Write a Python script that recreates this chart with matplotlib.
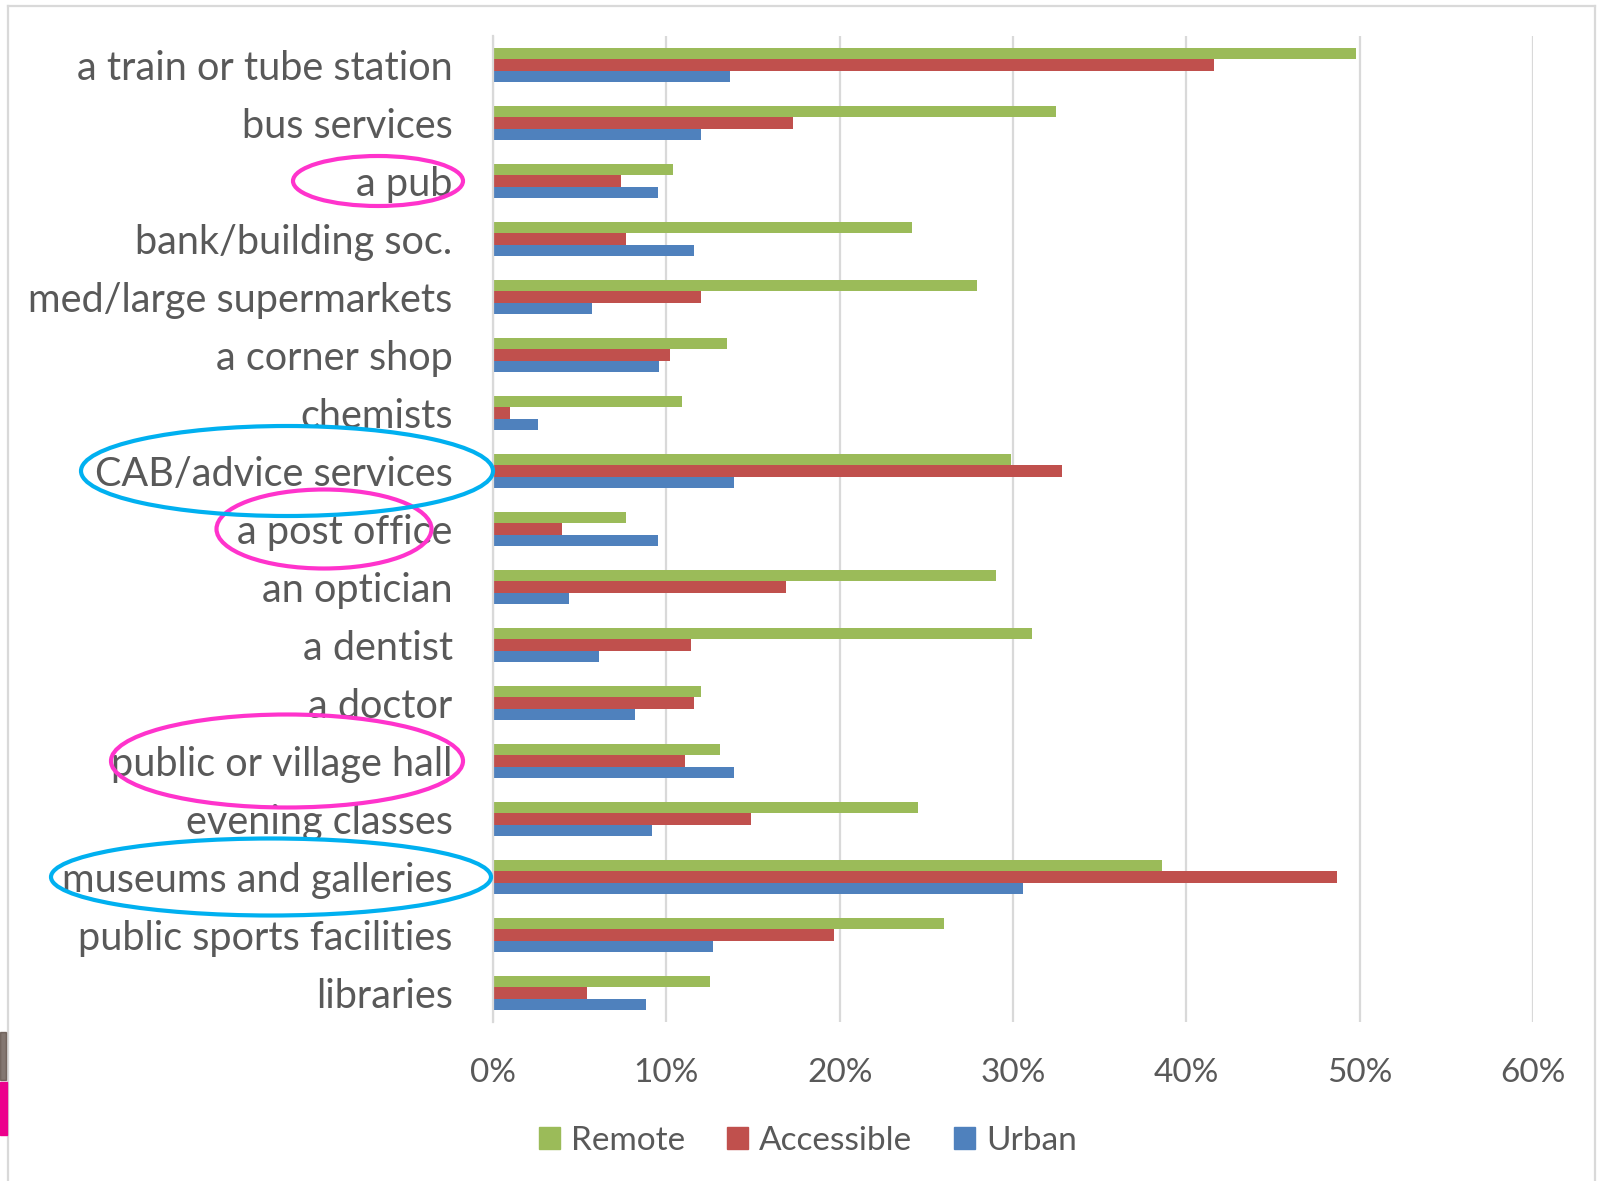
import numpy as np
import matplotlib
matplotlib.use("Agg")
import matplotlib.pyplot as plt
from matplotlib.patches import Ellipse, Rectangle
from matplotlib.lines import Line2D
from matplotlib.ticker import PercentFormatter
from matplotlib.transforms import blended_transform_factory

# data (percent of respondents), top to bottom
categories = ['a train or tube station', 'bus services', 'a pub', 'bank/building soc.',
              'med/large supermarkets', 'a corner shop', 'chemists', 'CAB/advice services',
              'a post office', 'an optician', 'a dentist', 'a doctor', 'public or village hall',
              'evening classes', 'museums and galleries', 'public sports facilities', 'libraries']
remote = [49.8, 32.5, 10.4, 24.2, 27.9, 13.5, 10.9, 29.9, 7.7, 29.0, 31.1, 12.0, 13.1, 24.5, 38.6, 26.0, 12.5]
accessible = [41.6, 17.3, 7.4, 7.7, 12.0, 10.2, 1.0, 32.8, 4.0, 16.9, 11.4, 11.6, 11.1, 14.9, 48.7, 19.7, 5.4]
urban = [13.7, 12.0, 9.5, 11.6, 5.7, 9.6, 2.6, 13.9, 9.5, 4.4, 6.1, 8.2, 13.9, 9.2, 30.6, 12.7, 8.8]
series_names = ['Remote', 'Accessible', 'Urban']
x_ticks = [0, 10, 20, 30, 40, 50, 60]

# labels that were circled by hand: (label, colour, x centre px, width px, height px)
circled = [
    ('a pub', '#ff33cc', 378, 170, 50),
    ('a post office', '#ff33cc', 324, 215, 79),
    ('public or village hall', '#ff33cc', 287, 352, 93),
    ('CAB/advice services', '#00b0f0', 287, 412, 90),
    ('museums and galleries', '#00b0f0', 271, 440, 77),
]

W, H = 1603, 1181
TXT = '#595959'
GRID = '#d9d9d9'
colors = ['#9bbb59', '#c0504d', '#4f81bd']

plt.rcParams['font.family'] = ['Lato', 'DejaVu Sans']

fig = plt.figure(figsize=(W / 100, H / 100), dpi=100)
ax_left, ax_right, ax_top, ax_bot = 493, 1533, 36, 1022
ax = fig.add_axes([ax_left / W, 1 - ax_bot / H, (ax_right - ax_left) / W, (ax_bot - ax_top) / H])

n = len(categories)
y = np.arange(n)[::-1]
bh = 0.195
for vals, off, col, name in zip([remote, accessible, urban], [bh, 0, -bh], colors, series_names):
    ax.barh(y + off, vals, height=bh, color=col, label=name, zorder=2)

ax.set_xlim(0, 60)
ax.set_ylim(-0.5, n - 0.5)
ax.set_xticks(x_ticks)
ax.xaxis.set_major_formatter(PercentFormatter(xmax=100, decimals=0))
ax.set_yticks(y)
ax.set_yticklabels(categories)
ax.tick_params(axis='y', length=0, pad=29, labelsize=28.5, labelcolor=TXT)
ax.tick_params(axis='x', length=0, pad=26, labelsize=24, labelcolor=TXT)
ax.xaxis.grid(True, color=GRID, linewidth=1.6)
ax.set_axisbelow(True)
for s in ['top', 'right', 'bottom']:
    ax.spines[s].set_visible(False)
ax.spines['left'].set_color(GRID)
ax.spines['left'].set_linewidth(1.6)

# hand-drawn ellipses around some labels
ax_w = ax_right - ax_left
px_per_row = (ax_bot - ax_top) / n
trans = blended_transform_factory(ax.transAxes, ax.transData)
for label, col, cx, ew, eh in circled:
    yy = y[categories.index(label)]
    e = Ellipse(((cx - ax_left) / ax_w, yy), ew / ax_w, eh / px_per_row,
                transform=trans, fill=False, edgecolor=col, linewidth=3.0,
                clip_on=False, zorder=5)
    ax.add_patch(e)
ax.set_ylim(-0.5, n - 0.5)

# legend
handles = [Rectangle((0, 0), 1, 1, color=c) for c in colors]
fig.legend(handles, series_names, loc='center', bbox_to_anchor=(808 / W, 1 - 1141 / H),
           ncol=3, frameon=False, fontsize=24, labelcolor=TXT,
           handlelength=0.62, handleheight=0.62, handletextpad=0.35, columnspacing=1.25)

# outer frame of the pasted chart and the bits of the neighbouring slide
fig.add_artist(Line2D([8 / W, 8 / W], [0, 1 - 6 / H], color=GRID, linewidth=1.6))
fig.add_artist(Line2D([8 / W, 1595 / W], [1 - 6 / H, 1 - 6 / H], color=GRID, linewidth=1.6))
fig.add_artist(Line2D([1595 / W, 1595 / W], [0, 1 - 6 / H], color=GRID, linewidth=1.6))
fig.patches.append(Rectangle((0, 1 - 1135 / H), 7 / W, 53 / H, transform=fig.transFigure,
                             color='#ec008c', zorder=3))
fig.patches.append(Rectangle((0, 1 - 1080 / H), 6 / W, 48 / H, transform=fig.transFigure,
                             color='#5a4a42', alpha=0.75, zorder=3))

fig.savefig('out.png', dpi=100)
